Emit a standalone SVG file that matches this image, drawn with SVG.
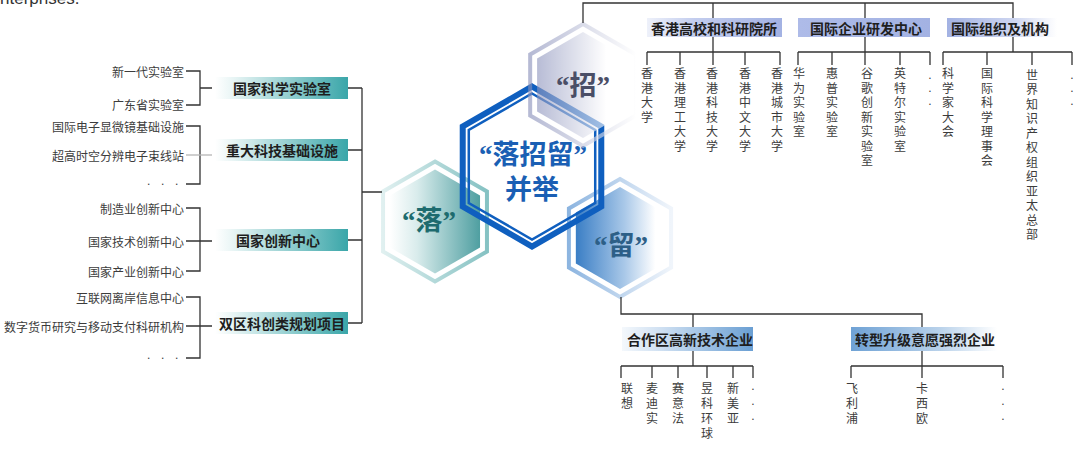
<svg xmlns="http://www.w3.org/2000/svg" width="1080" height="454" viewBox="0 0 1080 454">
<style>
.sm{font-family:"Noto Sans CJK SC",sans-serif;font-size:12px;fill:#3c3c3c;}
.dt{font-family:"Liberation Sans",sans-serif;font-size:12px;fill:#3c3c3c;}
.lb{font-family:"Noto Sans CJK SC",sans-serif;font-size:14px;font-weight:700;fill:#1e1e1e;}
.hx{font-family:"Liberation Serif","Noto Sans CJK SC",serif;font-weight:700;font-size:27px;}
.cn{fill:none;stroke:#333;stroke-width:1.3;}
</style>
<defs>
<linearGradient id="gTeal" x1="0" y1="0" x2="1" y2="0"><stop offset="0" stop-color="#ffffff"/><stop offset="0.15" stop-color="#e6f4f4"/><stop offset="1" stop-color="#3aa6a9"/></linearGradient>
<linearGradient id="gLavL" x1="0" y1="0" x2="1" y2="0"><stop offset="0" stop-color="#eef1fa"/><stop offset="0.35" stop-color="#c3cdee"/><stop offset="1" stop-color="#a3b2e3"/></linearGradient>
<linearGradient id="gLav" x1="0" y1="0" x2="1" y2="0"><stop offset="0" stop-color="#aebbe8"/><stop offset="1" stop-color="#a3b2e3"/></linearGradient>
<linearGradient id="gLavR" x1="0" y1="0" x2="1" y2="0"><stop offset="0" stop-color="#a3b2e3"/><stop offset="0.6" stop-color="#cdd5f0"/><stop offset="1" stop-color="#ffffff"/></linearGradient>
<linearGradient id="gBlueL" x1="0" y1="0" x2="1" y2="0"><stop offset="0" stop-color="#f4f8fc"/><stop offset="0.3" stop-color="#cfe0f2"/><stop offset="1" stop-color="#6a9fd3"/></linearGradient>
<linearGradient id="gBlueR" x1="0" y1="0" x2="1" y2="0"><stop offset="0" stop-color="#6fa2d5"/><stop offset="0.6" stop-color="#b8d1ea"/><stop offset="1" stop-color="#ffffff"/></linearGradient>
<linearGradient id="luoFill" x1="0" y1="0" x2="1" y2="0"><stop offset="0" stop-color="#ffffff"/><stop offset="0.3" stop-color="#d9ecec"/><stop offset="1" stop-color="#4f9fa1"/></linearGradient>
<linearGradient id="luoRing" x1="0" y1="0" x2="1" y2="0"><stop offset="0" stop-color="#e0f0f0"/><stop offset="1" stop-color="#86c2c3"/></linearGradient>
<linearGradient id="zhaoFill" x1="0" y1="0" x2="1" y2="0"><stop offset="0" stop-color="#8d94bd"/><stop offset="0.75" stop-color="#ffffff"/><stop offset="1" stop-color="#ffffff"/></linearGradient>
<linearGradient id="zhaoRing" x1="0" y1="0" x2="1" y2="0"><stop offset="0" stop-color="#8a91bb"/><stop offset="1" stop-color="#ffffff"/></linearGradient>
<linearGradient id="liuFill" x1="0" y1="0" x2="1" y2="0"><stop offset="0" stop-color="#3a7ec5"/><stop offset="0.55" stop-color="#a9c8e8"/><stop offset="0.9" stop-color="#ffffff"/></linearGradient>
<linearGradient id="liuRing" x1="0" y1="0" x2="1" y2="0"><stop offset="0" stop-color="#8db5e0"/><stop offset="1" stop-color="#f0f5fb"/></linearGradient>
</defs>
<rect width="1080" height="454" fill="#ffffff"/>
<text x="0" y="4" font-family="Liberation Sans" font-size="17" fill="#333">nterprises.</text>

<!-- hexagons -->
<g id="node-luo">
<polygon points="435,161.5 486.96,191.5 486.96,251.5 435,281.5 383.04,251.5 383.04,191.5" fill="none" stroke="url(#luoRing)" stroke-width="4"/>
<polygon points="435,169.5 480.03,195.5 480.03,247.5 435,273.5 389.97,247.5 389.97,195.5" fill="url(#luoFill)"/>
<text class="hx" x="429" y="221" text-anchor="middle" dominant-baseline="central" fill="#1d6b6e">“落”</text>
</g>
<g id="node-liu">
<polygon points="620,179 671.09,208.5 671.09,267.5 620,297 568.91,267.5 568.91,208.5" fill="none" stroke="url(#liuRing)" stroke-width="4"/>
<polygon points="620,187 664.17,212.5 664.17,263.5 620,289 575.83,263.5 575.83,212.5" fill="url(#liuFill)"/>
<text class="hx" x="621" y="246" text-anchor="middle" dominant-baseline="central" fill="#2d5f87">“留”</text>
</g>
<g id="node-center">
<polygon points="532,86.5 601.28,126.5 601.28,206.5 532,246.5 462.72,206.5 462.72,126.5" fill="none" stroke="#0f5fbf" stroke-width="6"/>
<polygon points="532,93.5 595.22,130 595.22,203 532,239.5 468.78,203 468.78,130" fill="none" stroke="#0f5fbf" stroke-width="2.5"/>
<text class="hx" x="533" y="155" font-size="30" text-anchor="middle" dominant-baseline="central" fill="#1a5fb4">“落招留”</text>
<text class="hx" x="532" y="190" font-size="30" text-anchor="middle" dominant-baseline="central" fill="#1a5fb4">并举</text>
</g>
<g id="node-zhao">
<g opacity="0.62">
<polygon points="583,24 635.83,54.5 635.83,115.5 583,146 530.17,115.5 530.17,54.5" fill="none" stroke="url(#zhaoRing)" stroke-width="4"/>
<polygon points="583,32 628.9,58.5 628.9,111.5 583,138 537.1,111.5 537.1,58.5" fill="url(#zhaoFill)"/>
</g>
<text class="hx" x="583" y="86" text-anchor="middle" dominant-baseline="central" fill="#4a4e66">“招”</text>
</g>

<!-- connectors -->
<g id="connectors">
<path class="cn" d="M186,71H200V105H186M200,88H212"/>
<path class="cn" d="M186,126H200V184H186"/>
<path fill="none" stroke="#b5b5b5" stroke-width="1.3" d="M186,155H212"/>
<path class="cn" d="M186,208H200V271H186M186,241H212"/>
<path class="cn" d="M186,297H200V358H186M186,326H212"/>
<path class="cn" d="M348,88H362M348,150H362M348,240H362M348,323H362M362,88V323M362,192H382"/>
<path class="cn" d="M583,23V3H1013V18M713,3V18M865,3V18"/>
<path class="cn" d="M713,37V52M647,52H780M647,52V65M680,52V65M713,52V65M745,52V65M780,52V65"/>
<path class="cn" d="M865,37V52M798,52H930M798,52V65M832,52V65M865,52V65M900,52V65M930,52V65"/>
<path class="cn" d="M1013,37V52M943,52H1072M943,52V65M987,52V65M1032,52V65M1072,52V65"/>
<path class="cn" d="M621,297V314H922V327M693,314V327"/>
<path class="cn" d="M693,351V366M621,366H753M621,366V378M652,366V378M678,366V378M707,366V378M733,366V378M753,366V378"/>
<path class="cn" d="M922,351V378M851,366H1003M851,366V378M1003,366V378"/>
</g>

<!-- left category nodes -->
<g id="node-gjkxsys"><rect x="215" y="77" width="133" height="22" fill="url(#gTeal)"/><text class="lb" x="282" y="88" text-anchor="middle" dominant-baseline="central">国家科学实验室</text></g>
<g id="node-zdkjjcss"><rect x="215" y="139" width="133" height="22" fill="url(#gTeal)"/><text class="lb" x="282" y="150" text-anchor="middle" dominant-baseline="central">重大科技基础设施</text></g>
<g id="node-gjcxzx"><rect x="215" y="229" width="133" height="22" fill="url(#gTeal)"/><text class="lb" x="278" y="240" text-anchor="middle" dominant-baseline="central">国家创新中心</text></g>
<g id="node-sqkclgh"><rect x="215" y="312" width="133" height="22" fill="url(#gTeal)"/><text class="lb" x="282" y="323" text-anchor="middle" dominant-baseline="central">双区科创类规划项目</text></g>

<!-- left leaves -->
<g id="leaf-l1"><text class="sm" x="184" y="71" text-anchor="end" dominant-baseline="central">新一代实验室</text></g>
<g id="leaf-l2"><text class="sm" x="184" y="104" text-anchor="end" dominant-baseline="central">广东省实验室</text></g>
<g id="leaf-l3"><text class="sm" x="184" y="126" text-anchor="end" dominant-baseline="central">国际电子显微镜基础设施</text></g>
<g id="leaf-l4"><text class="sm" x="184" y="155" text-anchor="end" dominant-baseline="central">超高时空分辨电子束线站</text></g>
<g id="leaf-l5"><text class="dt" x="147 161 175" y="185">...</text></g>
<g id="leaf-l6"><text class="sm" x="184" y="208" text-anchor="end" dominant-baseline="central">制造业创新中心</text></g>
<g id="leaf-l7"><text class="sm" x="184" y="241" text-anchor="end" dominant-baseline="central">国家技术创新中心</text></g>
<g id="leaf-l8"><text class="sm" x="184" y="271" text-anchor="end" dominant-baseline="central">国家产业创新中心</text></g>
<g id="leaf-l9"><text class="sm" x="184" y="297" text-anchor="end" dominant-baseline="central">互联网离岸信息中心</text></g>
<g id="leaf-l10"><text class="sm" x="184" y="326" text-anchor="end" dominant-baseline="central">数字货币研究与移动支付科研机构</text></g>
<g id="leaf-l11"><text class="dt" x="147 161 175" y="359">...</text></g>

<!-- top category nodes -->
<g id="node-xggx"><rect x="647" y="18" width="135" height="19" fill="url(#gLavL)"/><text class="lb" x="714" y="27.5" text-anchor="middle" dominant-baseline="central">香港高校和科研院所</text></g>
<g id="node-gjqy"><rect x="798" y="18" width="132" height="19" fill="url(#gLav)"/><text class="lb" x="866" y="27.5" text-anchor="middle" dominant-baseline="central">国际企业研发中心</text></g>
<g id="node-gjzz"><rect x="947" y="18" width="110" height="19" fill="url(#gLavR)"/><text class="lb" x="1000" y="27.5" text-anchor="middle" dominant-baseline="central">国际组织及机构</text></g>

<!-- top leaves -->
<g id="leaf-t1"><text class="sm" x="647 647 647 647" y="72.5 87 101.5 116" text-anchor="middle" dominant-baseline="central">香港大学</text></g>
<g id="leaf-t2"><text class="sm" x="680 680 680 680 680 680" y="72.5 87 101.5 116 130.5 145" text-anchor="middle" dominant-baseline="central">香港理工大学</text></g>
<g id="leaf-t3"><text class="sm" x="712 712 712 712 712 712" y="72.5 87 101.5 116 130.5 145" text-anchor="middle" dominant-baseline="central">香港科技大学</text></g>
<g id="leaf-t4"><text class="sm" x="745 745 745 745 745 745" y="72.5 87 101.5 116 130.5 145" text-anchor="middle" dominant-baseline="central">香港中文大学</text></g>
<g id="leaf-t5"><text class="sm" x="777 777 777 777 777 777" y="72.5 87 101.5 116 130.5 145" text-anchor="middle" dominant-baseline="central">香港城市大学</text></g>
<g id="leaf-t6"><text class="sm" x="799 799 799 799 799" y="72.5 87 101.5 116 130.5" text-anchor="middle" dominant-baseline="central">华为实验室</text></g>
<g id="leaf-t7"><text class="sm" x="832 832 832 832 832" y="72.5 87 101.5 116 130.5" text-anchor="middle" dominant-baseline="central">惠普实验室</text></g>
<g id="leaf-t8"><text class="sm" x="867 867 867 867 867 867 867" y="72.5 87 101.5 116 130.5 145 159.5" text-anchor="middle" dominant-baseline="central">谷歌创新实验室</text></g>
<g id="leaf-t9"><text class="sm" x="900 900 900 900 900 900" y="72.5 87 101.5 116 130.5 145" text-anchor="middle" dominant-baseline="central">英特尔实验室</text></g>
<g id="leaf-t10"><text class="dt" x="930 930 930" y="79 92 105" text-anchor="middle">...</text></g>
<g id="leaf-t11"><text class="sm" x="948 948 948 948 948" y="72.5 87 101.5 116 130.5" text-anchor="middle" dominant-baseline="central">科学家大会</text></g>
<g id="leaf-t12"><text class="sm" x="987 987 987 987 987 987 987" y="72.5 87 101.5 116 130.5 145 159.5" text-anchor="middle" dominant-baseline="central">国际科学理事会</text></g>
<g id="leaf-t13"><text class="sm" x="1032 1032 1032 1032 1032 1032 1032 1032 1032 1032 1032 1032" y="74 88.5 103 117.5 132 146.5 161 175.5 190 204.5 219 233.5" text-anchor="middle" dominant-baseline="central">世界知识产权组织亚太总部</text></g>
<g id="leaf-t14"><text class="dt" x="1072 1072 1072" y="79 92 105" text-anchor="middle">...</text></g>

<!-- bottom category nodes -->
<g id="node-hzq"><rect x="622" y="327" width="131" height="24" fill="url(#gBlueL)"/><text class="lb" x="690" y="339" text-anchor="middle" dominant-baseline="central">合作区高新技术企业</text></g>
<g id="node-zxsj"><rect x="851" y="327" width="146" height="24" fill="url(#gBlueR)"/><text class="lb" x="925" y="339" text-anchor="middle" dominant-baseline="central">转型升级意愿强烈企业</text></g>

<!-- bottom leaves -->
<g id="leaf-b1"><text class="sm" x="627 627" y="387 402" text-anchor="middle" dominant-baseline="central">联想</text></g>
<g id="leaf-b2"><text class="sm" x="652 652 652" y="387 402 417" text-anchor="middle" dominant-baseline="central">麦迪实</text></g>
<g id="leaf-b3"><text class="sm" x="678 678 678" y="387 402 417" text-anchor="middle" dominant-baseline="central">赛意法</text></g>
<g id="leaf-b4"><text class="sm" x="707 707 707 707" y="387 402 417 432" text-anchor="middle" dominant-baseline="central">昱科环球</text></g>
<g id="leaf-b5"><text class="sm" x="733 733 733" y="387 402 417" text-anchor="middle" dominant-baseline="central">新美亚</text></g>
<g id="leaf-b6"><text class="dt" x="753 753 753" y="390 405 420" text-anchor="middle">...</text></g>
<g id="leaf-b7"><text class="sm" x="852 852 852" y="387 402 417" text-anchor="middle" dominant-baseline="central">飞利浦</text></g>
<g id="leaf-b8"><text class="sm" x="922 922 922" y="387 402 417" text-anchor="middle" dominant-baseline="central">卡西欧</text></g>
<g id="leaf-b9"><text class="dt" x="1003 1003 1003" y="390 405 420" text-anchor="middle">...</text></g>
</svg>
